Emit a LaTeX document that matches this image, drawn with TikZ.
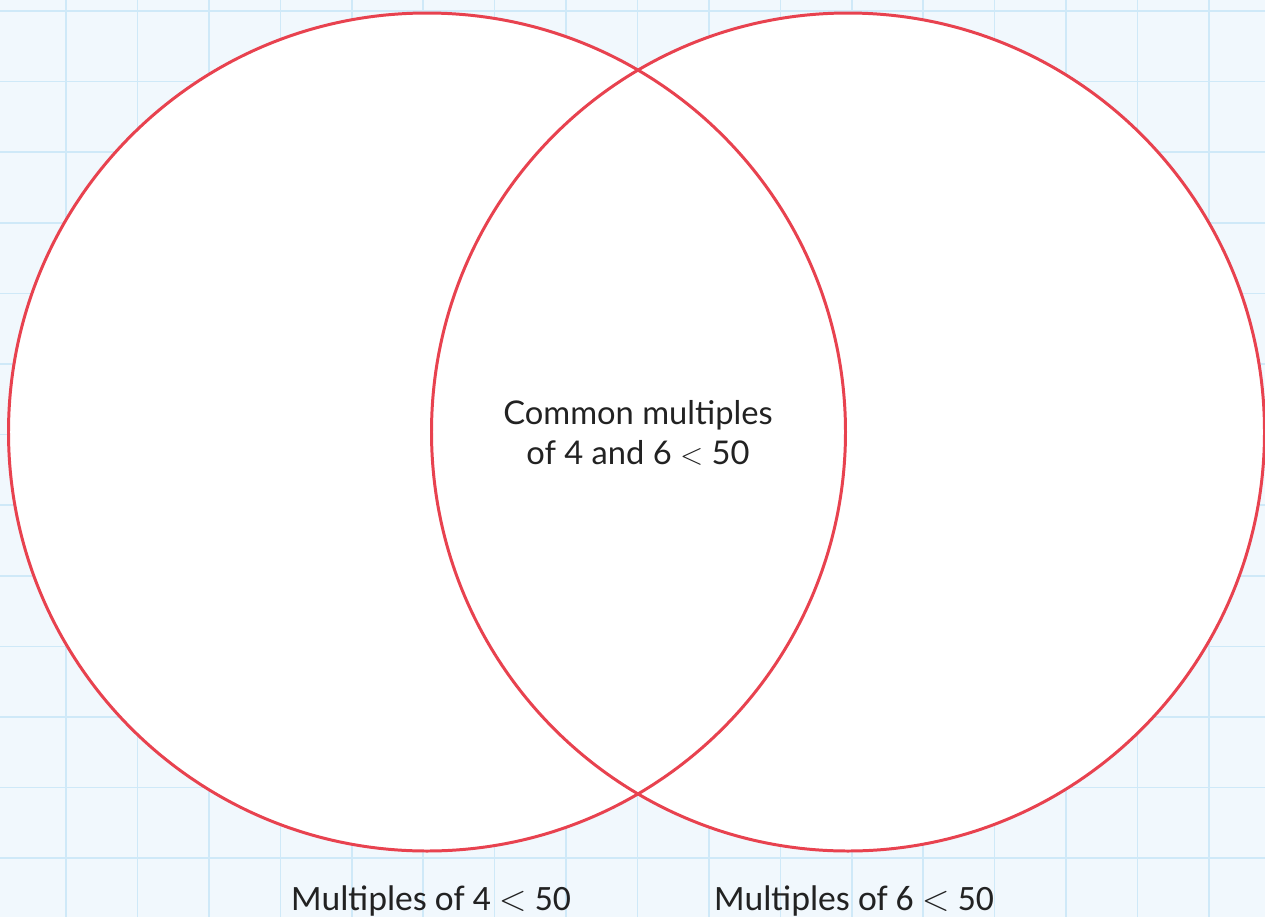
\documentclass[tikz,border=0pt]{standalone}
\usepackage{fontspec}
\setmainfont{Lato}
\newfontfamily\labelfont{Carlito}
\definecolor{bgblue}{HTML}{F1F8FD}
\definecolor{gridblue}{HTML}{CFE9F8}
\definecolor{vennred}{HTML}{E8424F}
\definecolor{textgray}{HTML}{222222}
\tikzset{
  gridline/.style={draw=gridblue, line width=0.9pt},
  setfill/.style={fill=white},
  setline/.style={draw=vennred, line width=1.7pt},
  centerlabel/.style={font=\fontsize{18.6}{22.7}\selectfont, text=textgray, align=center, inner sep=0pt},
  setlabel/.style={font=\labelfont\fontsize{20.3}{24}\selectfont, text=textgray, anchor=base, inner sep=0pt}
}
\begin{document}
\begin{tikzpicture}[x=0.02cm,y=-0.02cm]
\fill[bgblue] (0,0) rectangle (1265,917);
\useasboundingbox (0,0) rectangle (1265,917);
\foreach \k in {0,...,17} { \draw[gridline] ({66+71.43*\k},0) -- ({66+71.43*\k},917); }
\foreach \k in {0,...,12} { \draw[gridline] (0,{11+70.6*\k}) -- (1265,{11+70.6*\k}); }
\coordinate (cA) at (427,432);
\coordinate (cB) at (848,432);
\fill[setfill] (cA) circle [x radius=418.5, y radius=-419];
\fill[setfill] (cB) circle [x radius=416.5, y radius=-419];
\draw[setline] (cA) circle [x radius=418.5, y radius=-419];
\draw[setline] (cB) circle [x radius=416.5, y radius=-419];
\node[centerlabel] (common) at (638,433) {Common multiples\\of 4 and 6 $<$ 50};
\node[setlabel] (labA) at (431,910) {Multiples of 4 $<$ 50};
\node[setlabel] (labB) at (854,910) {Multiples of 6 $<$ 50};
\end{tikzpicture}
\end{document}
